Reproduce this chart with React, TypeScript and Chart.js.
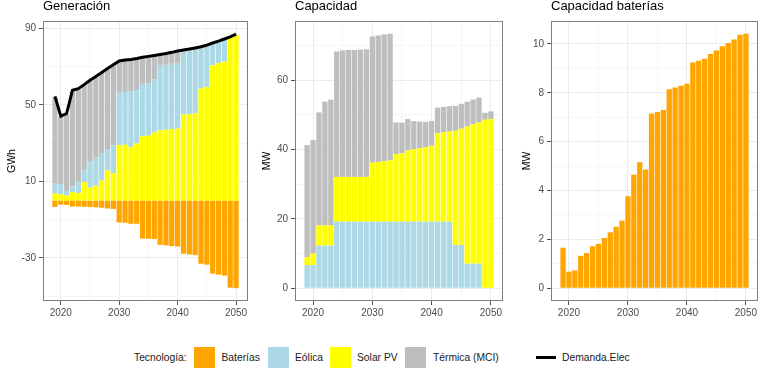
import React, { useEffect, useRef } from "react";
import { Chart, registerables } from "chart.js";

Chart.register(...registerables);

const FONT = "'Liberation Sans', Arial, Helvetica, sans-serif";
Chart.defaults.font.family = FONT;

// ---------------- data ----------------
const years = [
  2019, 2020, 2021, 2022, 2023, 2024, 2025, 2026, 2027, 2028, 2029, 2030, 2031, 2032, 2033, 2034,
  2035, 2036, 2037, 2038, 2039, 2040, 2041, 2042, 2043, 2044, 2045, 2046, 2047, 2048, 2049, 2050,
];

// Generación (GWh)
const genSolar = [
  3.6, 3.2, 2.5, 4.4, 3.9, 9.7, 6.7, 7.8, 10.5, 15.8, 14.3, 29.0, 29.2, 28.0, 29.9, 33.6,
  33.9, 35.5, 36.7, 37.0, 37.4, 37.6, 45.0, 45.2, 45.5, 58.5, 59.4, 70.8, 71.8, 72.7, 85.2, 86.6,
];
const genEolica = [
  5.5, 5.2, 2.5, 3.0, 5.9, 6.3, 13.6, 14.6, 14.3, 11.1, 14.5, 27.4, 27.6, 29.2, 27.8, 27.4,
  27.5, 28.0, 33.8, 34.0, 34.1, 34.4, 33.3, 33.6, 33.9, 21.5, 21.5, 11.2, 11.2, 11.4, 0, 0,
];
const genTermica = [
  45.0, 35.3, 40.1, 49.9, 48.3, 44.2, 42.2, 42.1, 41.8, 41.7, 41.8, 16.2, 16.3, 16.2, 16.2, 13.5,
  13.6, 12.0, 5.5, 5.5, 5.6, 5.8, 0, 0, 0, 0, 0, 0, 0, 0, 0, 0,
];
const genBaterias = [
  -3.4, -2.2, -2.3, -3.2, -3.2, -3.3, -3.5, -3.6, -3.8, -4.2, -4.4, -11.5, -11.7, -12.2, -12.2, -19.9,
  -20.1, -20.2, -23.2, -23.5, -23.9, -24.1, -27.9, -28.3, -28.6, -33.1, -33.6, -38.3, -38.8, -39.3, -45.6, -45.9,
];
const demanda = [
  54.5, 44.1, 45.5, 57.7, 58.5, 60.6, 62.9, 64.9, 67.0, 69.0, 71.0, 73.0, 73.5, 73.8, 74.3, 74.9,
  75.4, 75.9, 76.4, 76.9, 77.5, 78.2, 78.7, 79.2, 79.8, 80.4, 81.3, 82.4, 83.4, 84.5, 85.6, 87.0,
];

// Capacidad (MW)
const capEolica = [
  6.7, 6.7, 12.3, 12.3, 12.3, 19.2, 19.2, 19.2, 19.2, 19.2, 19.2, 19.2, 19.2, 19.2, 19.2, 19.2,
  19.2, 19.2, 19.2, 19.2, 19.2, 19.2, 19.2, 19.2, 19.2, 12.5, 12.5, 7.1, 7.1, 7.1, 0, 0,
];
const capSolar = [
  2.3, 3.3, 5.8, 5.8, 5.8, 12.9, 12.9, 12.9, 12.9, 12.9, 12.9, 17.0, 17.2, 17.4, 17.7, 19.5,
  19.7, 20.6, 20.9, 21.2, 21.5, 21.9, 25.5, 25.8, 26.0, 32.9, 33.5, 39.5, 40.2, 40.7, 48.6, 48.8,
];
const capTermica = [
  32.3, 32.7, 32.6, 35.7, 36.3, 36.2, 36.5, 36.6, 36.6, 36.7, 36.8, 36.4, 36.5, 36.6, 36.5, 9.1,
  8.9, 9.0, 8.1, 7.7, 7.3, 7.1, 7.4, 7.3, 7.3, 7.2, 7.2, 7.2, 7.1, 7.2, 2.0, 2.2,
];

// Capacidad baterías (MW)
const capBaterias = [
  1.66, 0.68, 0.73, 1.33, 1.44, 1.72, 1.82, 2.06, 2.29, 2.52, 2.77, 3.77, 4.65, 5.16, 4.86, 7.15,
  7.22, 7.3, 8.15, 8.22, 8.29, 8.37, 9.24, 9.31, 9.39, 9.59, 9.73, 9.91, 10.04, 10.18, 10.38, 10.42,
];

// ticks
const xTicks = [2020, 2025, 2030, 2035, 2040, 2045, 2050];
const xMajor = [2020, 2030, 2040, 2050];
const genYTicks = [-50, -30, -10, 10, 30, 50, 70, 90];
const genYMajor = [-30, 10, 50, 90];
const capYTicks = [0, 10, 20, 30, 40, 50, 60, 70];
const capYMajor = [0, 20, 40, 60];
const batYTicks = [0, 1, 2, 3, 4, 5, 6, 7, 8, 9, 10];
const batYMajor = [0, 2, 4, 6, 8, 10];

// labels
const panelTitles = ["Generación", "Capacidad", "Capacidad baterías"];
const legendTitle = "Tecnología:";
const seriesNames = ["Baterías", "Eólica", "Solar PV", "Térmica (MCI)"];
const demandName = "Demanda.Elec";

// colours
const C_BAT = "#FFA500";
const C_EOL = "#ADD8E6";
const C_SOL = "#FFFF00";
const C_TER = "#BEBEBE";
const C_DEM = "#000000";

// ---------------- helpers ----------------
const pts = (vals: number[]) => years.map((x, i) => ({ x, y: vals[i] }));

const panelBorder = {
  id: "panelBorder",
  afterDraw(chart: any) {
    const { ctx, chartArea: a } = chart;
    ctx.save();
    ctx.strokeStyle = "#7F7F7F";
    ctx.lineWidth = 1;
    ctx.strokeRect(a.left + 0.5, a.top + 0.5, a.right - a.left - 1, a.bottom - a.top - 1);
    ctx.restore();
  },
};

function axis(
  isX: boolean,
  tickVals: number[],
  majorVals: number[],
  min: number,
  max: number,
  size: number,
  title?: string,
  titlePad = 0
) {
  const isMajor = (c: any) => !!(c && c.tick && majorVals.includes(c.tick.value));
  return {
    type: "linear",
    min,
    max,
    stacked: true,
    offset: false,
    afterBuildTicks: (s: any) => {
      s.ticks = tickVals
        .filter((v) => v >= min && v <= max)
        .map((v) => ({ value: v, major: majorVals.includes(v) }));
    },
    afterFit: (s: any) => {
      if (isX) s.height = size;
      else s.width = size;
      s.paddingLeft = 0;
      s.paddingRight = 0;
      s.paddingTop = 0;
      s.paddingBottom = 0;
    },
    ticks: {
      autoSkip: false,
      maxRotation: 0,
      minRotation: 0,
      color: "#4D4D4D",
      font: { size: 10 },
      padding: isX ? 2 : 3,
      callback: (v: number) => (majorVals.includes(v) ? String(v) : ""),
    },
    grid: {
      offset: false,
      color: (c: any) => (isMajor(c) ? "#EBEBEB" : "#F5F5F5"),
      lineWidth: 1,
      tickColor: (c: any) => (isMajor(c) ? "#555555" : "rgba(0,0,0,0)"),
      tickLength: 4,
      drawTicks: true,
    },
    border: { display: false },
    title: title
      ? {
          display: true,
          text: title,
          color: "#000000",
          font: { size: 10.5 },
          padding: { top: titlePad, bottom: 0 },
        }
      : { display: false },
  };
}

const X_MIN = 2016.955;
const X_MAX = 2052.045;

function baseOptions(title: string, padR: number, yAxis: any) {
  return {
    responsive: false,
    animation: false,
    devicePixelRatio: 1,
    events: [],
    layout: { padding: { left: 0, right: padR, top: 0, bottom: 0 } },
    datasets: { bar: { barPercentage: 0.9, categoryPercentage: 1, borderWidth: 0 } },
    plugins: {
      legend: { display: false },
      tooltip: { enabled: false },
      title: {
        display: true,
        text: title,
        align: "start",
        fullSize: false,
        color: "#000000",
        font: { size: 13, weight: "normal", lineHeight: 1 },
        padding: { top: 0, bottom: 8 },
      },
    },
    scales: {
      x: axis(true, xTicks, xMajor, X_MIN, X_MAX, 29),
      y: yAxis,
    },
  };
}

const bar = (label: string, vals: number[], color: string) => ({
  type: "bar",
  label,
  data: pts(vals),
  backgroundColor: color,
  borderWidth: 0,
  order: 1,
});

function genConfig(): any {
  return {
    type: "bar",
    data: {
      datasets: [
        bar(seriesNames[2], genSolar, C_SOL),
        bar(seriesNames[1], genEolica, C_EOL),
        bar(seriesNames[3], genTermica, C_TER),
        bar(seriesNames[0], genBaterias, C_BAT),
        {
          type: "line",
          label: demandName,
          data: pts(demanda),
          borderColor: C_DEM,
          borderWidth: 3,
          pointRadius: 0,
          fill: false,
          tension: 0,
          stack: "demanda",
          order: 0,
        },
      ],
    },
    options: baseOptions(
      panelTitles[0],
      2,
      axis(false, genYTicks, genYMajor, -52.6, 93.9, 43, "GWh", 5.7)
    ),
    plugins: [panelBorder],
  };
}

function capConfig(): any {
  return {
    type: "bar",
    data: {
      datasets: [
        bar(seriesNames[1], capEolica, C_EOL),
        bar(seriesNames[2], capSolar, C_SOL),
        bar(seriesNames[3], capTermica, C_TER),
      ],
    },
    options: baseOptions(
      panelTitles[1],
      3,
      axis(false, capYTicks, capYMajor, -3.67, 77.07, 45, "MW", 11.2)
    ),
    plugins: [panelBorder],
  };
}

function batConfig(): any {
  return {
    type: "bar",
    data: {
      datasets: [bar(seriesNames[0], capBaterias, C_BAT)],
    },
    options: baseOptions(
      panelTitles[2],
      8,
      axis(false, batYTicks, batYMajor, -0.521, 10.94, 45, "MW", 15.2)
    ),
    plugins: [panelBorder],
  };
}

function Panel({ left, width, make }: { left: number; width: number; make: () => any }) {
  const ref = useRef<HTMLCanvasElement | null>(null);
  useEffect(() => {
    if (!ref.current) return;
    const chart = new Chart(ref.current, make());
    return () => chart.destroy();
  }, []);
  return (
    <canvas
      ref={ref}
      width={width}
      height={330}
      style={{ position: "absolute", left, top: 0, width, height: 330 }}
    />
  );
}

const textStyle = (left: number): React.CSSProperties => ({
  position: "absolute",
  left,
  top: 347,
  lineHeight: "21px",
  fontSize: 10.3,
  color: "#1A1A1A",
  whiteSpace: "nowrap",
  fontFamily: FONT,
});

const boxStyle = (left: number, color: string): React.CSSProperties => ({
  position: "absolute",
  left,
  top: 347,
  width: 21,
  height: 21,
  background: color,
});

export default function App() {
  return (
    <div
      style={{
        position: "absolute",
        left: 0,
        top: 0,
        width: 766,
        height: 376,
        background: "#FFFFFF",
        overflow: "hidden",
        fontFamily: FONT,
      }}
    >
      <Panel left={0} width={250} make={genConfig} />
      <Panel left={250} width={256} make={capConfig} />
      <Panel left={506} width={260} make={batConfig} />

      <span style={textStyle(134)}>{legendTitle}</span>
      <div style={boxStyle(194, C_BAT)} />
      <span style={textStyle(221.5)}>{seriesNames[0]}</span>
      <div style={boxStyle(267.5, C_EOL)} />
      <span style={textStyle(295)}>{seriesNames[1]}</span>
      <div style={boxStyle(330, C_SOL)} />
      <span style={textStyle(357)}>{seriesNames[2]}</span>
      <div style={boxStyle(405, C_TER)} />
      <span style={textStyle(433)}>{seriesNames[3]}</span>
      <div
        style={{ position: "absolute", left: 536, top: 356, width: 20, height: 3, background: C_DEM }}
      />
      <span style={textStyle(562)}>{demandName}</span>
    </div>
  );
}
